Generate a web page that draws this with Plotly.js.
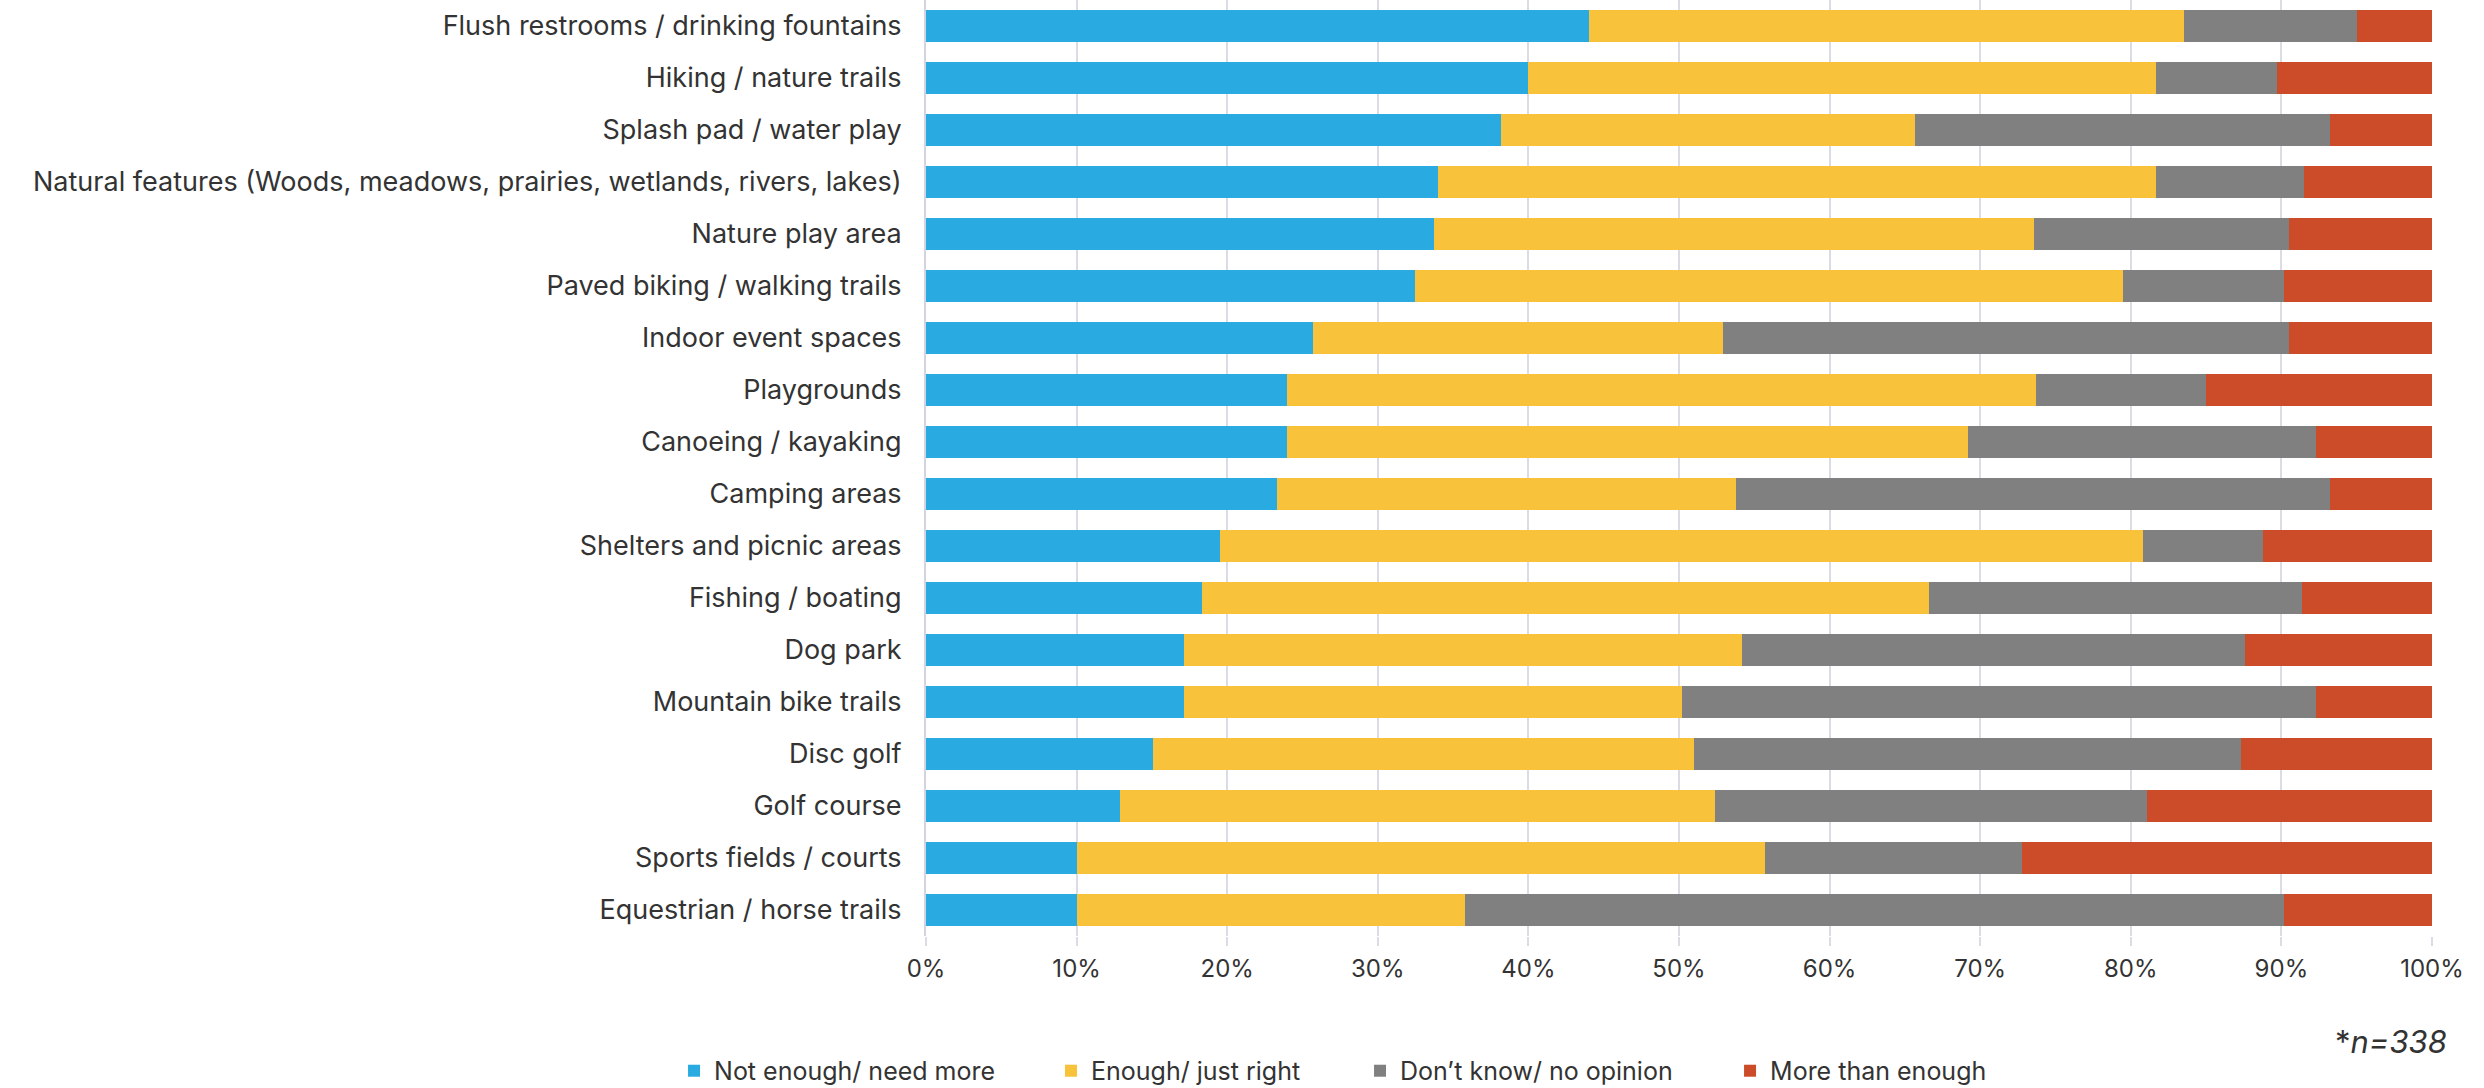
<!DOCTYPE html>
<html>
<head>
<meta charset="utf-8">
<script src="https://cdn.plot.ly/plotly-3.0.1.min.js"></script>
<style>
  html, body { margin: 0; padding: 0; background: #ffffff; }
  #chart { width: 2484px; height: 1088px; }
</style>
</head>
<body>
<div id="chart"></div>
<script>
const categories = [
  "Flush restrooms / drinking fountains",
  "Hiking / nature trails",
  "Splash pad / water play",
  "Natural features (Woods, meadows, prairies, wetlands, rivers, lakes)",
  "Nature play area",
  "Paved biking / walking trails",
  "Indoor event spaces",
  "Playgrounds",
  "Canoeing / kayaking",
  "Camping areas",
  "Shelters and picnic areas",
  "Fishing / boating",
  "Dog park",
  "Mountain bike trails",
  "Disc golf",
  "Golf course",
  "Sports fields / courts",
  "Equestrian / horse trails"
];
const notEnough = [44.0, 40.0, 38.2, 34.0, 33.7, 32.5, 25.7, 24.0, 24.0, 23.3, 19.5, 18.3, 17.1, 17.1, 15.1, 12.9, 10.0, 10.0];
const enough    = [39.5, 41.7, 27.5, 47.7, 39.9, 47.0, 27.2, 49.7, 45.2, 30.5, 61.3, 48.3, 37.1, 33.1, 35.9, 39.5, 45.7, 25.8];
const dontKnow  = [11.5,  8.0, 27.5,  9.8, 16.9, 10.7, 37.6, 11.3, 23.1, 39.4,  8.0, 24.8, 33.4, 42.1, 36.3, 28.7, 17.1, 54.4];
const moreThan  = [ 5.0, 10.3,  6.8,  8.5,  9.5,  9.8,  9.5, 15.0,  7.7,  6.8, 11.2,  8.6, 12.4,  7.7, 12.7, 18.9, 27.2,  9.8];
const seriesNames = ["Not enough/ need more", "Enough/ just right", "Don\u2019t know/ no opinion", "More than enough"];
const xTickVals = [0, 10, 20, 30, 40, 50, 60, 70, 80, 90, 100];
const xTickText = ["0%", "10%", "20%", "30%", "40%", "50%", "60%", "70%", "80%", "90%", "100%"];
const noteText = "*<i>n=338</i>";

const colors = ["#29abe2", "#f8c33a", "#808080", "#cc4c29"];
const seriesValues = [notEnough, enough, dontKnow, moreThan];
const legendIds = ["legend", "legend2", "legend3", "legend4"];
const FONT = "Inter, 'Open Sans', sans-serif";
const TXT = "#333333";

const traces = seriesValues.map((vals, i) => ({
  type: "bar",
  orientation: "h",
  name: seriesNames[i],
  y: categories,
  x: vals,
  marker: { color: colors[i], line: { width: 0 } },
  legend: legendIds[i],
  showlegend: true,
  hoverinfo: "name+x"
}));

const legendX = [-0.1673, 0.0830, 0.2882, 0.5339];
const layout = {
  width: 2484,
  height: 1088,
  margin: { l: 926, r: 52, t: 0, b: 152, pad: 0, autoexpand: false },
  paper_bgcolor: "#ffffff",
  plot_bgcolor: "#ffffff",
  showlegend: true,
  barmode: "stack",
  bargap: 0.38,
  font: { family: FONT, color: TXT, size: 24 },
  xaxis: {
    range: [0, 100],
    tickvals: xTickVals,
    ticktext: xTickText,
    automargin: false,
    showgrid: true,
    gridcolor: "#dcdce6",
    gridwidth: 2,
    zeroline: false,
    showline: false,
    ticks: "outside",
    ticklen: 9,
    tickwidth: 2,
    tickcolor: "#dcdce6",
    ticklabelstandoff: 2,
    tickfont: { family: FONT, size: 24, color: TXT },
    fixedrange: true
  },
  yaxis: {
    type: "category",
    autorange: "reversed",
    automargin: false,
    showgrid: false,
    zeroline: false,
    showline: true,
    linecolor: "#d4d4e0",
    linewidth: 2,
    ticks: "",
    ticklabelstandoff: 17,
    tickfont: { family: FONT, size: 27, color: TXT },
    fixedrange: true
  },
  annotations: [{
    xref: "paper", yref: "paper",
    x: 1.0115, y: -0.113,
    xanchor: "right", yanchor: "middle",
    text: noteText,
    showarrow: false,
    font: { family: FONT, size: 31, color: TXT }
  }]
};
legendIds.forEach((id, i) => {
  layout[id] = {
    visible: true,
    orientation: "h",
    x: legendX[i],
    y: -0.1442,
    xanchor: "left",
    yanchor: "middle",
    bgcolor: "rgba(0,0,0,0)",
    borderwidth: 0,
    font: { family: FONT, size: 25, color: TXT }
  };
});

Plotly.newPlot("chart", traces, layout, { displayModeBar: false });
</script>
</body>
</html>
